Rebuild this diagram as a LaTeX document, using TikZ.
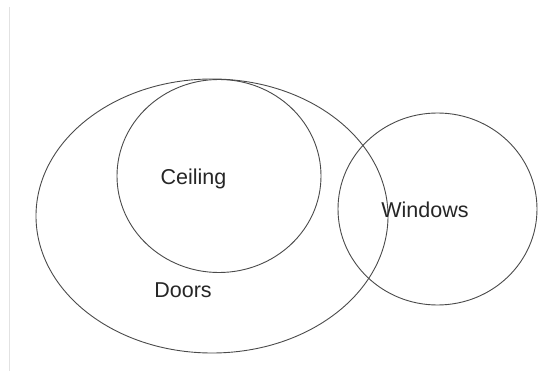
\documentclass[tikz,border=0pt]{standalone}
\usepackage{fontspec}
\setmainfont{Liberation Sans}
\usetikzlibrary{shapes.geometric}
\definecolor{linegray}{HTML}{4A4A4A}
\definecolor{framegray}{HTML}{E2E2E2}
\tikzset{
  setshape/.style={draw=linegray, line width=0.9pt, ellipse, inner sep=0pt},
  setlabel/.style={anchor=base, font=\fontsize{21.5}{25}\selectfont, text=black!85, inner sep=0pt}
}
\begin{document}
\begin{tikzpicture}[x=1pt,y=-1pt]
  \useasboundingbox[fill=white] (0,0) rectangle (538,371);
  \coordinate (ltop) at (9.5,7);
  \coordinate (lbot) at (9.5,371);
  \draw[framegray, line width=1pt] (ltop) -- (lbot);
  \node[setshape, minimum width=352pt, minimum height=274pt] (doors) at (212,216) {};
  \node[setshape, minimum width=204pt, minimum height=193pt] (ceiling) at (219,176) {};
  \node[setshape, minimum width=199pt, minimum height=192pt] (windows) at (437.5,209) {};
  \node[setlabel] (tceiling) at (193.5,185) {Ceiling};
  \node[setlabel] (tdoors) at (183,298) {Doors};
  \node[setlabel] (twindows) at (425,218) {Windows};
\end{tikzpicture}
\end{document}
